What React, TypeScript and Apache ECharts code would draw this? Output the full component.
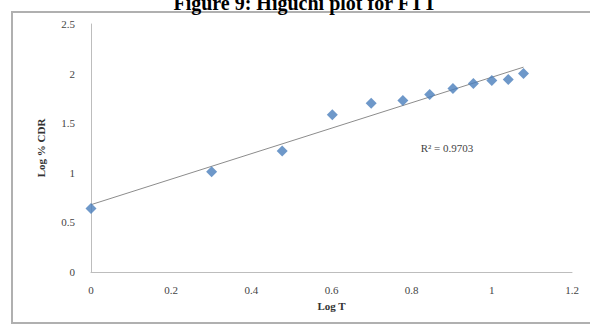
import React, { useEffect, useRef } from "react";
import * as echarts from "echarts";

const logT = [0, 0.301, 0.477, 0.602, 0.699, 0.778, 0.845, 0.903, 0.954, 1.0, 1.041, 1.079];
const logCDR = [0.64, 1.01, 1.22, 1.586, 1.7, 1.73, 1.79, 1.85, 1.9, 1.93, 1.94, 2.0];
const xTicks = [0, 0.2, 0.4, 0.6, 0.8, 1, 1.2];
const yTicks = [0, 0.5, 1, 1.5, 2, 2.5];
const titleText = "Figure 9: Higuchi plot for FTT";
const r2Text = "R² = 0.9703";

function regression(xs: number[], ys: number[]) {
  const n = xs.length;
  const mx = xs.reduce((a, b) => a + b, 0) / n;
  const my = ys.reduce((a, b) => a + b, 0) / n;
  let sxy = 0;
  let sxx = 0;
  for (let i = 0; i < n; i++) {
    sxy += (xs[i] - mx) * (ys[i] - my);
    sxx += (xs[i] - mx) * (xs[i] - mx);
  }
  const slope = sxy / sxx;
  return { slope, intercept: my - slope * mx };
}

export default function App() {
  const ref = useRef<HTMLDivElement>(null);
  useEffect(() => {
    if (!ref.current) return;
    const chart = echarts.init(ref.current, null, { renderer: "svg" });
    const { slope, intercept } = regression(logT, logCDR);
    const x0 = logT[0];
    const x1 = logT[logT.length - 1];
    const serif = "'Liberation Serif', 'DejaVu Serif', serif";
    chart.setOption({
      animation: false,
      backgroundColor: "#ffffff",
      grid: { left: 91, right: 18, top: 24, bottom: 55 },
      graphic: [
        {
          type: "rect",
          shape: { x: 12, y: 12, width: 600, height: 311 },
          style: { fill: "none", stroke: "#b0b0b0", lineWidth: 2 },
          silent: true,
        },
        {
          type: "text",
          x: 305,
          y: 3,
          style: {
            text: titleText,
            font: `bold 20px ${serif}`,
            fill: "#000",
            align: "center",
            verticalAlign: "middle",
          },
        },
        {
          type: "text",
          x: 447,
          y: 148,
          style: {
            text: r2Text,
            font: `11px ${serif}`,
            fill: "#444",
            align: "center",
            verticalAlign: "middle",
          },
        },
      ],
      xAxis: {
        type: "value",
        min: xTicks[0],
        max: xTicks[xTicks.length - 1],
        interval: 0.2,
        name: "Log T",
        nameLocation: "middle",
        nameGap: 28,
        nameTextStyle: { fontFamily: serif, fontWeight: "bold", fontSize: 11, color: "#333" },
        axisLine: { show: true, lineStyle: { color: "#bdbdbd", width: 1 } },
        axisTick: { show: false },
        splitLine: { show: false },
        axisLabel: { fontFamily: serif, fontSize: 11, color: "#444", margin: 12 },
      },
      yAxis: {
        type: "value",
        min: yTicks[0],
        max: yTicks[yTicks.length - 1],
        interval: 0.5,
        name: "Log % CDR",
        nameLocation: "middle",
        nameGap: 45,
        nameTextStyle: { fontFamily: serif, fontWeight: "bold", fontSize: 11, color: "#333" },
        axisLine: { show: true, lineStyle: { color: "#bdbdbd", width: 1 } },
        axisTick: { show: false },
        splitLine: { show: false },
        axisLabel: { fontFamily: serif, fontSize: 11, color: "#444", margin: 16 },
      },
      series: [
        {
          type: "line",
          data: [
            [x0, intercept + slope * x0],
            [x1, intercept + slope * x1],
          ],
          symbol: "none",
          lineStyle: { color: "#8c8c8c", width: 1 },
          silent: true,
          z: 1,
        },
        {
          type: "scatter",
          data: logT.map((x, i) => [x, logCDR[i]]),
          symbol: "diamond",
          symbolSize: 11,
          itemStyle: { color: "#4a7ebb" },
          z: 2,
        },
      ],
    });
    return () => chart.dispose();
  }, []);
  return (
    <div
      ref={ref}
      style={{ position: "fixed", left: 0, top: 0, width: 590, height: 327, background: "#fff" }}
    />
  );
}
